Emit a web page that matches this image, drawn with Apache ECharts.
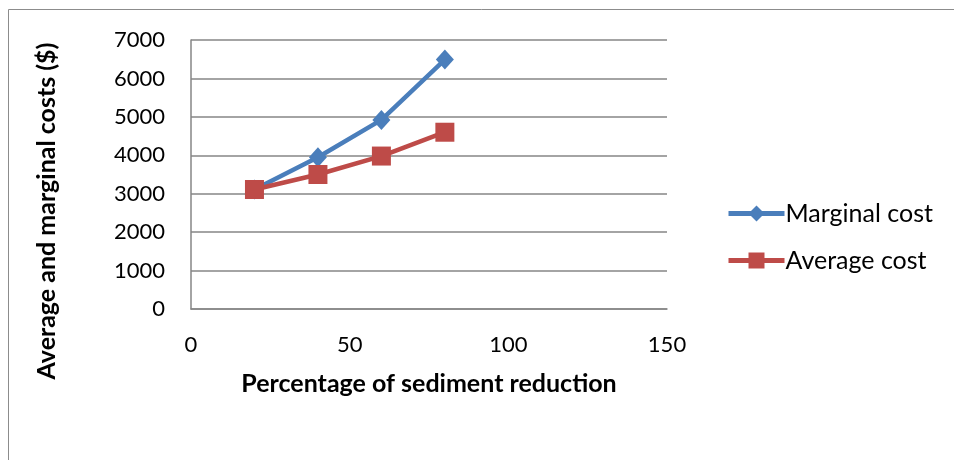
<!DOCTYPE html>
<html>
<head>
<meta charset="utf-8">
<script src="https://cdn.jsdelivr.net/npm/echarts@6/dist/echarts.min.js"></script>
<style>
  html, body { margin: 0; padding: 0; background: #fff; }
  #chart { width: 954px; height: 460px; }
</style>
</head>
<body>
<div id="chart"></div>
<script>
// Sediment reduction (%) and the cost of each level of reduction ($)
const reduction = [20, 40, 60, 80];
const marginalCost = [3110, 3950, 4920, 6490];
const averageCost = [3110, 3500, 3980, 4600];
const seriesNames = ['Marginal cost', 'Average cost'];
const xTitle = 'Percentage of sediment reduction';
const yTitle = 'Average and marginal costs ($)';

const pairs = (xs, ys) => xs.map((x, i) => [x, ys[i]]);

const chart = echarts.init(document.getElementById('chart'));
const tickFont = { fontFamily: 'Lato', fontSize: 22, color: '#000' };
const gridLine = { color: '#868686', width: 1.5 };

chart.setOption({
  animation: false,
  graphic: [
    {
      type: 'rect',
      shape: { x: 8.5, y: 9.5, width: 960, height: 470 },
      style: { fill: 'none', stroke: '#8c8c8c', lineWidth: 1 },
      silent: true
    },
    {
      type: 'text',
      x: 47, y: 211,
      rotation: Math.PI / 2,
      style: {
        text: yTitle,
        fontFamily: 'Lato', fontWeight: 'bold', fontSize: 25, fill: '#000',
        align: 'center', verticalAlign: 'middle'
      },
      silent: true
    }
  ],
  grid: { left: 191, right: 287, top: 40, bottom: 151 },
  legend: {
    orient: 'vertical',
    left: 721,
    top: 196,
    itemWidth: 56,
    itemHeight: 20,
    itemGap: 22,
    lineStyle: { width: 5 },
    textStyle: { fontFamily: 'Lato', fontSize: 25, color: '#000', padding: [0, 0, 0, -4] },
    data: seriesNames
  },
  xAxis: {
    type: 'value',
    min: 0, max: 150, interval: 50,
    name: xTitle,
    nameLocation: 'middle',
    nameGap: 62,
    nameTextStyle: { fontFamily: 'Lato', fontWeight: 'bold', fontSize: 25, color: '#000' },
    axisLine: { show: true, lineStyle: gridLine },
    axisTick: { show: false },
    axisLabel: Object.assign({ margin: 25 }, tickFont),
    splitLine: { show: false }
  },
  yAxis: {
    type: 'value',
    min: 0, max: 7000, interval: 1000,
    axisLine: { show: true, lineStyle: gridLine },
    axisTick: { show: false },
    axisLabel: Object.assign({ margin: 26, formatter: v => String(v) }, tickFont),
    splitLine: { show: true, lineStyle: gridLine }
  },
  series: [
    {
      name: seriesNames[0],
      type: 'line',
      data: pairs(reduction, marginalCost),
      color: '#4a7ebb',
      lineStyle: { width: 4.5, color: '#4a7ebb' },
      symbol: 'diamond',
      symbolSize: [18, 20],
      itemStyle: { color: '#4a7ebb' },
      z: 2
    },
    {
      name: seriesNames[1],
      type: 'line',
      data: pairs(reduction, averageCost),
      color: '#be4b48',
      lineStyle: { width: 4.5, color: '#be4b48' },
      symbol: 'rect',
      symbolSize: 19,
      itemStyle: { color: '#be4b48' },
      z: 3
    }
  ]
});
</script>
</body>
</html>
